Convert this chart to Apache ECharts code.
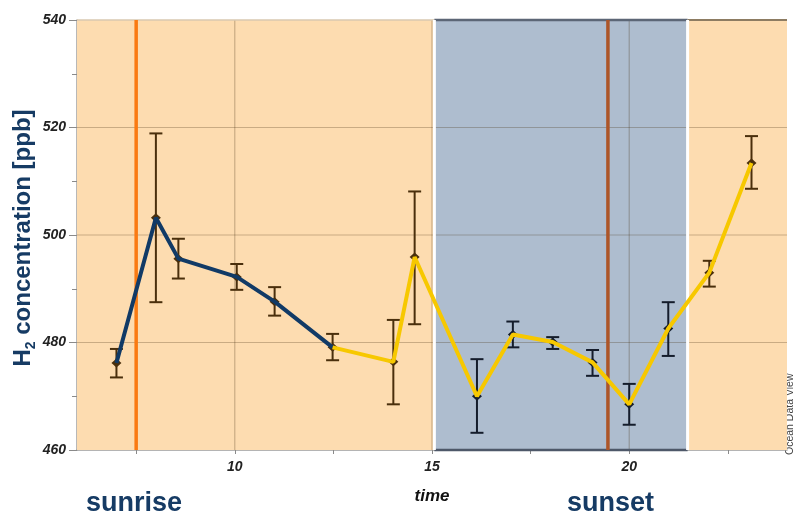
<!DOCTYPE html>
<html>
<head>
<meta charset="utf-8">
<script src="https://cdn.jsdelivr.net/npm/echarts@6/dist/echarts.min.js"></script>
<style>
  html, body { margin: 0; padding: 0; background: #ffffff; }
  #chart { width: 797px; height: 513px; }
</style>
</head>
<body>
<div id="chart"></div>
<script>
// Sampling times (hour of day) and H2 mixing ratios with error-bar limits [ppb]
const sampleTime = [7.0, 8.0, 8.57, 10.05, 11.01, 12.48, 14.02, 14.56, 16.14, 17.05, 18.06, 19.07, 20.0, 20.99, 22.03, 23.1];
const h2Mean = [476.2, 503.2, 495.6, 492.2, 487.6, 479.1, 476.4, 495.9, 470.0, 481.5, 480.1, 476.3, 468.5, 482.6, 493.0, 513.4];
const h2Low  = [473.5, 487.5, 491.9, 489.8, 485.0, 476.7, 468.5, 483.4, 463.2, 479.1, 478.8, 473.8, 464.7, 477.5, 490.4, 508.6];
const h2High = [478.8, 518.9, 499.3, 494.6, 490.3, 481.6, 484.2, 508.1, 476.9, 483.9, 481.0, 478.6, 472.3, 487.5, 495.2, 518.4];
// Samples in the morning (navy) segment; its last sample also starts the afternoon (yellow) segment
const morningCount = 6;

// Axis ranges and ticks
const timeRange = [6, 24];
const h2Range = [460, 540];
const h2Interval = 20;
const timeLabels = [10, 15, 20];
const timeTicks = [7.5, 10, 12.5, 15, 17.5, 20, 22.5];
const h2Grid = [480, 500, 520];

// Sunrise / sunset and the shaded dark period
const sunriseTime = 7.5;
const sunsetTime = 19.46;
const nightRange = [15.06, 21.48];

const DAY_FILL = '#fddcb0';
const NIGHT_FILL = '#aebdcf';
const NAVY = '#113a66';
const YELLOW = '#f7c800';
const BAR_DAY = '#4a2f0c';
const BAR_NIGHT = '#141c2b';
const GRID_LINE = 'rgba(70,45,15,0.28)';

const chart = echarts.init(document.getElementById('chart'), null, { renderer: 'canvas' });

const morning = sampleTime.slice(0, morningCount).map((t, i) => [t, h2Mean[i]]);
const afternoon = sampleTime.slice(morningCount - 1).map((t, i) => [t, h2Mean[i + morningCount - 1]]);
const bars = sampleTime.map((t, i) => [t, h2Low[i], h2High[i], h2Mean[i]]);

const isNight = t => t >= nightRange[0] && t <= nightRange[1];

function seg(a, b, color, width) {
  return {
    type: 'line',
    shape: { x1: a[0], y1: a[1], x2: b[0], y2: b[1] },
    style: { stroke: color, lineWidth: width }
  };
}

const option = {
  animation: false,
  backgroundColor: '#ffffff',
  grid: { left: 77, right: 10, top: 20, bottom: 63 },
  xAxis: {
    type: 'value',
    min: timeRange[0],
    max: timeRange[1],
    name: 'time',
    nameLocation: 'middle',
    nameGap: 38,
    nameTextStyle: { fontFamily: 'Liberation Sans', fontSize: 17, fontWeight: 'bold', fontStyle: 'italic', color: '#111' },
    axisLine: { show: true, lineStyle: { color: '#9c9c9c', width: 1.5 } },
    axisTick: { show: true, customValues: timeTicks, length: 4, lineStyle: { color: '#8a8a8a' } },
    axisLabel: {
      customValues: timeLabels,
      margin: 10,
      fontFamily: 'Liberation Sans', fontSize: 14, fontWeight: 'bold', fontStyle: 'italic', color: '#222'
    },
    splitLine: { show: false }
  },
  yAxis: {
    type: 'value',
    min: h2Range[0],
    max: h2Range[1],
    interval: h2Interval,
    axisLine: { show: true, lineStyle: { color: '#a0a0a0', width: 1.5 } },
    axisTick: { show: true, length: 8, lineStyle: { color: '#8a8a8a' } },
    minorTick: { show: true, splitNumber: 2, length: 5, lineStyle: { color: '#8a8a8a' } },
    axisLabel: {
      margin: 11,
      fontFamily: 'Liberation Sans', fontSize: 14, fontWeight: 'bold', fontStyle: 'italic', color: '#222'
    },
    splitLine: { show: false }
  },
  graphic: [
    {
      type: 'text',
      x: 23, y: 238,
      rotation: Math.PI / 2,
      style: {
        text: '{h|H}{s|2}{h| concentration [ppb]}',
        align: 'center',
        verticalAlign: 'middle',
        rich: {
          h: { fontFamily: 'Liberation Sans', fontSize: 24, fontWeight: 'bold', fill: '#163b64', lineHeight: 26 },
          s: { fontFamily: 'Liberation Sans', fontSize: 14, fontWeight: 'bold', fill: '#163b64', lineHeight: 30, verticalAlign: 'bottom' }
        }
      }
    },
    {
      type: 'text', x: 86, y: 504,
      style: { text: 'sunrise', fontFamily: 'Liberation Sans', fontSize: 27, fontWeight: 'bold', fill: '#163b64', align: 'left', verticalAlign: 'middle' }
    },
    {
      type: 'text', x: 567, y: 504,
      style: { text: 'sunset', fontFamily: 'Liberation Sans', fontSize: 27, fontWeight: 'bold', fill: '#163b64', align: 'left', verticalAlign: 'middle' }
    },
    {
      type: 'text', x: 790, y: 455,
      rotation: Math.PI / 2,
      style: { text: 'Ocean Data View', fontFamily: 'Liberation Sans', fontSize: 10.5, fill: '#444', align: 'left', verticalAlign: 'middle' }
    }
  ],
  series: [
    {
      // day background and shaded dark period
      type: 'custom',
      name: 'background',
      silent: true,
      z: 1,
      data: [[timeRange[0], timeRange[1]], [nightRange[0], nightRange[1]]],
      renderItem(params, api) {
        const p0 = api.coord([api.value(0), h2Range[1]]);
        const p1 = api.coord([api.value(1), h2Range[0]]);
        return {
          type: 'rect',
          shape: { x: p0[0], y: p0[1], width: p1[0] - p0[0], height: p1[1] - p0[1] },
          style: { fill: params.dataIndex === 0 ? DAY_FILL : NIGHT_FILL }
        };
      }
    },
    {
      // grid lines at labelled ticks
      type: 'custom',
      name: 'grid',
      silent: true,
      z: 2,
      data: h2Grid.map(v => [v, 0]).concat(timeLabels.map(v => [v, 1])),
      renderItem(params, api) {
        const v = api.value(0);
        if (api.value(1) === 0) {
          return seg(api.coord([timeRange[0], v]), api.coord([timeRange[1], v]), GRID_LINE, 1.2);
        }
        return seg(api.coord([v, h2Range[0]]), api.coord([v, h2Range[1]]), GRID_LINE, 1.2);
      }
    },
    {
      // borders of the shaded period and upper frame
      type: 'custom',
      name: 'frame',
      silent: true,
      z: 3,
      data: [[nightRange[0], nightRange[1]]],
      renderItem(params, api) {
        const a = api.value(0), b = api.value(1);
        const c = api.coord;
        return {
          type: 'group',
          children: [
            seg(c([timeRange[0], h2Range[1]]), c([a, h2Range[1]]), '#d8c8b0', 1.5),
            seg(c([a, h2Range[1]]), c([b, h2Range[1]]), '#5c6676', 2.5),
            seg(c([b, h2Range[1]]), c([timeRange[1], h2Range[1]]), '#8d7c62', 2),
            seg(c([a, h2Range[0]]), c([b, h2Range[0]]), '#4e5869', 2.5),
            seg(c([a, h2Range[0]]), c([a, h2Range[1]]), '#ffffff', 3),
            seg(c([b, h2Range[0]]), c([b, h2Range[1]]), '#ffffff', 3)
          ]
        };
      }
    },
    {
      // sunrise and sunset markers
      type: 'custom',
      name: 'sun',
      silent: true,
      z: 4,
      data: [[sunriseTime, 0], [sunsetTime, 1]],
      renderItem(params, api) {
        const t = api.value(0);
        const color = api.value(1) === 0 ? '#fa7a12' : '#ad5528';
        return seg(api.coord([t, h2Range[0]]), api.coord([t, h2Range[1]]), color, 3.5);
      }
    },
    {
      // error bars with diamond markers
      type: 'custom',
      name: 'error',
      silent: true,
      z: 5,
      data: bars,
      renderItem(params, api) {
        const t = api.value(0);
        const lo = api.coord([t, api.value(1)]);
        const hi = api.coord([t, api.value(2)]);
        const m = api.coord([t, api.value(3)]);
        const color = isNight(t) ? BAR_NIGHT : BAR_DAY;
        const cap = 6.5;
        return {
          type: 'group',
          children: [
            seg(lo, hi, color, 2),
            seg([lo[0] - cap, lo[1]], [lo[0] + cap, lo[1]], color, 2),
            seg([hi[0] - cap, hi[1]], [hi[0] + cap, hi[1]], color, 2),
            {
              type: 'polygon',
              shape: { points: [[m[0], m[1] - 4.5], [m[0] + 5, m[1]], [m[0], m[1] + 4.5], [m[0] - 5, m[1]]] },
              style: { fill: color }
            }
          ]
        };
      }
    },
    {
      type: 'line',
      name: 'morning',
      z: 6,
      data: morning,
      symbol: 'none',
      lineStyle: { color: NAVY, width: 4 },
      silent: true
    },
    {
      type: 'line',
      name: 'afternoon',
      z: 6,
      data: afternoon,
      symbol: 'none',
      lineStyle: { color: YELLOW, width: 4 },
      silent: true
    }
  ]
};

chart.setOption(option);
</script>
</body>
</html>
